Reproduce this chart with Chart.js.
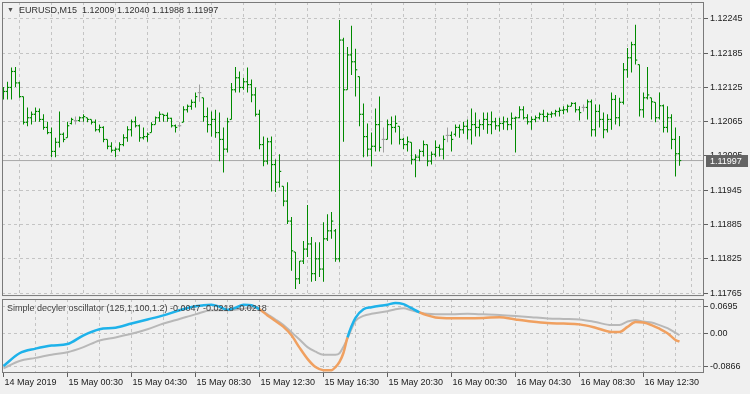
<!DOCTYPE html>
<html><head><meta charset="utf-8">
<script src="https://cdn.jsdelivr.net/npm/chart.js@4"></script>
<style>
html,body{margin:0;padding:0;background:#f0f0f0;}
#wrap{position:relative;width:750px;height:394px;overflow:hidden;font-family:"Liberation Sans",Arial,sans-serif;background:#f0f0f0;}
#c1{position:absolute;left:0;top:0;width:750px;height:298px;}
#c2{position:absolute;left:0;top:298px;width:750px;height:96px;}
.lbl{position:absolute;font-size:9px;color:#303030;white-space:pre;line-height:12px;}
</style></head><body>
<div id="wrap">
<canvas id="c1" width="750" height="298"></canvas>
<canvas id="c2" width="750" height="96"></canvas>
<div class="lbl" style="left:7px;top:4px;font-size:7px;color:#505050">▼</div>
<div class="lbl" id="title" style="left:19px;top:4px"></div>
<div class="lbl" id="subtitle" style="left:7px;top:302px;color:#404040"></div>
</div>
<script>
const symbolTitle = 'EURUSD,M15';
const indicatorTitle = 'Simple decyler oscillator (125,1,100,1.2)';
const tickLabels = ['14 May 2019','15 May 00:30','15 May 04:30','15 May 08:30','15 May 12:30','15 May 16:30','15 May 20:30','16 May 00:30','16 May 04:30','16 May 08:30','16 May 12:30'];
const priceTicks = [1.11765,1.11825,1.11885,1.11945,1.12005,1.12065,1.12125,1.12185,1.12245];
const oscTicks = [-0.0866, 0, 0.0695];
const oscTickLabels = ['-0.0866','0.00','0.0695'];

const open = [
1.12111,1.12118,1.12125,1.12153,1.12133,1.12109,1.12064,1.12072,1.12078,1.12083,
1.12069,1.12055,1.12046,1.12013,1.12029,1.12043,1.12037,1.12062,1.12067,1.12067,
1.12072,1.12072,1.12069,1.12064,1.12051,1.12055,1.12034,1.12022,1.12015,1.12017,
1.12025,1.12037,1.12051,1.12065,1.12058,1.12037,1.12039,1.12046,1.12060,1.12072,
1.12078,1.12076,1.12071,1.12058,1.12058,1.12064,1.12086,1.12092,1.12099,1.12116,
1.12107,1.12074,1.12060,1.12069,1.12046,1.12034,1.12017,1.12069,1.12121,1.12142,
1.12125,1.12135,1.12130,1.12112,1.12078,1.12025,1.11996,1.12030,1.11990,1.11959,
1.11952,1.11926,1.11891,1.11837,1.11790,1.11821,1.11842,1.11851,1.11799,1.11825,
1.11807,1.11860,1.11874,1.11874,1.11825,1.12208,1.12121,1.12182,1.12170,1.12144,
1.12078,1.12039,1.12017,1.12022,1.12060,1.12034,1.12034,1.12060,1.12055,1.12057,
1.12034,1.12025,1.12029,1.11999,1.12003,1.12013,1.12025,1.11996,1.12008,1.12020,
1.12017,1.12041,1.12041,1.12043,1.12055,1.12051,1.12057,1.12051,1.12060,1.12055,
1.12060,1.12069,1.12060,1.12065,1.12058,1.12062,1.12065,1.12060,1.12071,1.12072,
1.12086,1.12072,1.12065,1.12069,1.12072,1.12078,1.12074,1.12078,1.12079,1.12083,
1.12085,1.12086,1.12092,1.12097,1.12086,1.12090,1.12090,1.12100,1.12051,1.12083,
1.12069,1.12051,1.12069,1.12104,1.12072,1.12099,1.12156,1.12177,1.12200,1.12165,
1.12086,1.12107,1.12107,1.12099,1.12072,1.12093,1.12055,1.12072,1.12034,1.12009];
const high = [
1.12126,1.12135,1.12160,1.12161,1.12135,1.12109,1.12090,1.12083,1.12090,1.12088,
1.12078,1.12065,1.12055,1.12037,1.12083,1.12046,1.12065,1.12072,1.12074,1.12074,
1.12078,1.12072,1.12069,1.12069,1.12060,1.12057,1.12034,1.12029,1.12020,1.12029,
1.12043,1.12057,1.12069,1.12074,1.12060,1.12055,1.12046,1.12064,1.12074,1.12083,
1.12078,1.12081,1.12072,1.12060,1.12064,1.12092,1.12095,1.12104,1.12116,1.12130,
1.12107,1.12090,1.12083,1.12086,1.12081,1.12055,1.12072,1.12133,1.12161,1.12153,
1.12142,1.12160,1.12139,1.12125,1.12086,1.12039,1.12037,1.12039,1.11999,1.12008,
1.11952,1.11959,1.11898,1.11837,1.11821,1.11856,1.11919,1.11863,1.11854,1.11854,
1.11889,1.11903,1.11907,1.11877,1.12243,1.12212,1.12196,1.12233,1.12193,1.12144,
1.12097,1.12062,1.12046,1.12088,1.12109,1.12055,1.12069,1.12074,1.12076,1.12057,
1.12037,1.12039,1.12029,1.12008,1.12017,1.12032,1.12025,1.12013,1.12032,1.12025,
1.12041,1.12055,1.12048,1.12060,1.12060,1.12065,1.12069,1.12088,1.12081,1.12069,
1.12081,1.12081,1.12083,1.12072,1.12072,1.12074,1.12072,1.12081,1.12074,1.12092,
1.12092,1.12078,1.12074,1.12076,1.12081,1.12086,1.12081,1.12083,1.12086,1.12090,
1.12092,1.12095,1.12099,1.12099,1.12092,1.12095,1.12104,1.12104,1.12095,1.12095,
1.12081,1.12078,1.12116,1.12112,1.12107,1.12168,1.12194,1.12205,1.12235,1.12165,
1.12116,1.12161,1.12107,1.12099,1.12116,1.12095,1.12092,1.12078,1.12055,1.12040];
const low = [
1.12104,1.12104,1.12104,1.12126,1.12107,1.12060,1.12057,1.12060,1.12065,1.12065,
1.12051,1.12043,1.12003,1.12003,1.12020,1.12029,1.12037,1.12060,1.12060,1.12065,
1.12065,1.12064,1.12060,1.12048,1.12046,1.12029,1.12017,1.12011,1.12003,1.12013,
1.12022,1.12030,1.12039,1.12055,1.12030,1.12034,1.12030,1.12046,1.12060,1.12065,
1.12065,1.12065,1.12055,1.12046,1.12055,1.12064,1.12081,1.12086,1.12090,1.12100,
1.12065,1.12046,1.12039,1.12037,1.11996,1.11976,1.12011,1.12069,1.12116,1.12116,
1.12121,1.12116,1.12099,1.12074,1.12017,1.11987,1.11990,1.11943,1.11942,1.11950,
1.11917,1.11886,1.11804,1.11772,1.11781,1.11816,1.11828,1.11785,1.11786,1.11793,
1.11785,1.11856,1.11860,1.11820,1.11820,1.12030,1.12121,1.12147,1.12109,1.12057,
1.12003,1.12004,1.11987,1.12013,1.12013,1.12011,1.12034,1.12025,1.12046,1.12025,
1.12017,1.12013,1.11990,1.11968,1.11996,1.12004,1.11987,1.11990,1.12003,1.12004,
1.11999,1.12029,1.12013,1.12039,1.12037,1.12044,1.12034,1.12025,1.12039,1.12039,
1.12051,1.12044,1.12043,1.12051,1.12048,1.12051,1.12050,1.12051,1.12011,1.12071,
1.12069,1.12060,1.12051,1.12064,1.12069,1.12065,1.12065,1.12072,1.12074,1.12074,
1.12078,1.12081,1.12092,1.12081,1.12067,1.12083,1.12069,1.12039,1.12039,1.12055,
1.12036,1.12046,1.12051,1.12060,1.12057,1.12095,1.12142,1.12151,1.12165,1.12074,
1.12072,1.12104,1.12069,1.12064,1.12069,1.12046,1.12046,1.12017,1.11969,1.11988];
const close = [
1.12118,1.12125,1.12153,1.12133,1.12109,1.12064,1.12072,1.12078,1.12083,1.12069,
1.12055,1.12046,1.12013,1.12029,1.12043,1.12034,1.12058,1.12069,1.12067,1.12072,
1.12074,1.12069,1.12064,1.12051,1.12055,1.12034,1.12022,1.12015,1.12017,1.12025,
1.12037,1.12051,1.12065,1.12058,1.12037,1.12039,1.12043,1.12060,1.12072,1.12078,
1.12076,1.12071,1.12058,1.12055,1.12058,1.12086,1.12092,1.12099,1.12109,1.12116,
1.12074,1.12060,1.12069,1.12046,1.12034,1.12017,1.12065,1.12121,1.12142,1.12125,
1.12135,1.12130,1.12112,1.12078,1.12025,1.11996,1.12030,1.11990,1.11959,1.11978,
1.11926,1.11891,1.11839,1.11790,1.11821,1.11842,1.11851,1.11799,1.11825,1.11807,
1.11860,1.11874,1.11891,1.11825,1.12208,1.12121,1.12182,1.12170,1.12156,1.12078,
1.12039,1.12017,1.12022,1.12060,1.12020,1.12034,1.12060,1.12055,1.12062,1.12034,
1.12025,1.12030,1.11999,1.12003,1.12013,1.12025,1.11996,1.12008,1.12020,1.12017,
1.12034,1.12041,1.12034,1.12055,1.12051,1.12057,1.12051,1.12060,1.12055,1.12060,
1.12069,1.12060,1.12065,1.12058,1.12062,1.12065,1.12060,1.12071,1.12072,1.12086,
1.12072,1.12065,1.12069,1.12072,1.12078,1.12074,1.12078,1.12079,1.12083,1.12085,
1.12086,1.12092,1.12097,1.12086,1.12081,1.12090,1.12100,1.12051,1.12083,1.12069,
1.12051,1.12069,1.12104,1.12072,1.12099,1.12156,1.12177,1.12200,1.12173,1.12086,
1.12107,1.12112,1.12100,1.12072,1.12093,1.12055,1.12072,1.12034,1.12009,1.11997];

const oscBars = [0,4,8,12,16,20,24,28,32,36,40,44,48,52,54,56,58,60,62,64,66,68,70,72,74,76,78,80,82,83,84,85,86,88,90,92,96,98,100,102,104,106,108,112,116,120,124,128,132,136,140,144,148,152,154,156,158,160,162,164,166,168,169];
const decycler = [-0.0855,-0.0521,-0.0401,-0.0321,-0.0281,-0.0053,0.0107,0.0147,0.0254,0.0361,0.0468,0.0601,0.0708,0.0748,0.0695,0.0615,0.0668,0.0748,0.0735,0.0628,0.0468,0.0321,0.0168,-0.0053,-0.0374,-0.0668,-0.0882,-0.0962,-0.0962,-0.0882,-0.0748,-0.0508,-0.0107,0.0401,0.0628,0.0682,0.0748,0.0794,0.0762,0.0655,0.0548,0.0468,0.0414,0.0393,0.0393,0.0401,0.0420,0.0361,0.0307,0.0267,0.0254,0.0233,0.0147,0.0035,0.0035,0.0168,0.0294,0.0281,0.0214,0.0120,0.0000,-0.0174,-0.0218];
const signal = [-0.0917,-0.0722,-0.0642,-0.0561,-0.0495,-0.0361,-0.0187,-0.0107,-0.0013,0.0107,0.0254,0.0374,0.0495,0.0601,0.0601,0.0601,0.0615,0.0642,0.0668,0.0628,0.0495,0.0361,0.0214,0.0027,-0.0160,-0.0361,-0.0481,-0.0561,-0.0561,-0.0561,-0.0521,-0.0348,-0.0134,0.0321,0.0454,0.0508,0.0575,0.0628,0.0655,0.0601,0.0548,0.0508,0.0495,0.0495,0.0508,0.0495,0.0481,0.0454,0.0420,0.0388,0.0374,0.0361,0.0294,0.0214,0.0214,0.0307,0.0348,0.0307,0.0281,0.0214,0.0134,0.0013,-0.0047];

const N = close.length;
const last = N - 1;
document.getElementById('title').textContent = symbolTitle + '  ' + [open[last],high[last],low[last],close[last]].map(v=>v.toFixed(5)).join(' ');
document.getElementById('subtitle').textContent = indicatorTitle + ' ' + signal[signal.length-1].toFixed(4) + ' ' + decycler[decycler.length-1].toFixed(4) + ' ' + decycler[decycler.length-1].toFixed(4);

const FONT = {family:'"Liberation Sans", Arial, sans-serif', size:9};
const TXT = '#202020';
const GRID = '#c4c4c4';
const FRAME = '#7a7a7a';
const TICK = '#606060';
const GREEN = '#008a00', DOJI = '#a0a0a0';
const BLUE = '#1eb2ea', ORANGE = '#f0a060', GRAY = '#b8b8b8';
const xMin = -0.375, xMax = xMin + 702/4;
const gridTicks = []; for (let v = 8; v <= 168; v += 8) gridTicks.push(v);
const axisTicks = []; for (let v = 0; v <= 168; v += 8) axisTicks.push(v);
const barCol = i => open[i] === close[i] ? DOJI : GREEN;
const noPad = s => { s.paddingTop = 0; s.paddingBottom = 0; s.paddingLeft = 0; s.paddingRight = 0; };

const framePlugin = {
  id: 'frame',
  afterDraw(chart) {
    const a = chart.chartArea, ctx = chart.ctx;
    ctx.save(); ctx.strokeStyle = FRAME; ctx.lineWidth = 1;
    ctx.strokeRect(a.left + 0.5, a.top + 0.5, a.right - a.left - 1, a.bottom - a.top - 1);
    ctx.restore();
  }
};
const priceLabelPlugin = {
  id: 'priceLabel',
  afterDraw(chart) {
    const ctx = chart.ctx, a = chart.chartArea;
    const y = Math.round(chart.scales.y.getPixelForValue(close[last]));
    ctx.save();
    ctx.fillStyle = '#646464';
    ctx.fillRect(a.right + 2, y - 6, 42, 12);
    ctx.fillStyle = '#ffffff';
    ctx.font = '9px "Liberation Sans", Arial, sans-serif';
    ctx.textBaseline = 'middle'; ctx.textAlign = 'left';
    ctx.fillText(close[last].toFixed(5), a.right + 6, y + 0.5);
    ctx.restore();
  }
};

new Chart(document.getElementById('c1'), {
  type: 'bar',
  data: { datasets: [
    { type:'line', data:[{x:xMin,y:close[last]},{x:xMax,y:close[last]}], borderColor:'#a8a8a8', borderWidth:1, pointRadius:0, order:10 },
    { type:'bar', data: close.map((c,i)=>({x:i, y:[low[i], high[i]]})), backgroundColor: ctx => barCol(ctx.dataIndex),
      barThickness:1, inflateAmount:0, borderWidth:0, grouped:false, order:2 },
    { type:'scatter', data: open.map((o,i)=>({x:i-0.25, y:o})), pointStyle:'line', pointRadius:0.75, pointHoverRadius:0,
      pointBorderWidth:1.2, pointBorderColor: ctx => barCol(ctx.dataIndex), order:1 },
    { type:'scatter', data: close.map((c,i)=>({x:i+0.25, y:c})), pointStyle:'line', pointRadius:0.75, pointHoverRadius:0,
      pointBorderWidth:1.2, pointBorderColor: ctx => barCol(ctx.dataIndex), order:1 }
  ]},
  options: {
    responsive:false, animation:false, events:[],
    layout:{padding:{left:2, top:2, right:0, bottom:1}},
    plugins:{legend:{display:false}, tooltip:{enabled:false}},
    scales:{
      x:{ type:'linear', min:xMin, max:xMax, offset:false,
        afterBuildTicks: s => { s.ticks = gridTicks.map(v=>({value:v})); },
        afterFit: s => { s.height = 0; noPad(s); },
        ticks:{display:false}, grid:{color:GRID, drawTicks:false, lineWidth:1}, border:{display:false, dash:[3,3]} },
      y:{ type:'linear', position:'right', min:1.1175977, max:1.1227465,
        afterBuildTicks: s => { s.ticks = priceTicks.map(v=>({value:v})); },
        afterFit: s => { s.width = 46; noPad(s); },
        ticks:{ callback: v => Number(v).toFixed(5), font:FONT, color:TXT, padding:2 },
        grid:{ color:GRID, tickColor:TICK, tickLength:4, lineWidth:1 }, border:{display:false, dash:[3,3]} }
    }
  },
  plugins:[framePlugin, priceLabelPlugin]
});

new Chart(document.getElementById('c2'), {
  type: 'line',
  data: { datasets: [
    { data: oscBars.map((b,k)=>({x:b, y:decycler[k]})), borderWidth:2.5, pointRadius:0, cubicInterpolationMode:'monotone',
      borderColor: BLUE,
      segment:{ borderColor: ctx => (decycler[ctx.p0DataIndex] + decycler[ctx.p1DataIndex]) >= (signal[ctx.p0DataIndex] + signal[ctx.p1DataIndex]) ? BLUE : ORANGE },
      order:1 },
    { data: oscBars.map((b,k)=>({x:b, y:signal[k]})), borderWidth:2, pointRadius:0, cubicInterpolationMode:'monotone', borderColor: GRAY, order:2 }
  ]},
  options: {
    responsive:false, animation:false, events:[],
    layout:{padding:{left:2, top:1, right:0, bottom:0}},
    plugins:{legend:{display:false}, tooltip:{enabled:false}},
    scales:{
      x:{ type:'linear', min:xMin, max:xMax, offset:false,
        afterBuildTicks: s => { s.ticks = axisTicks.map(v=>({value:v})); },
        afterFit: s => { s.height = 21; noPad(s); },
        ticks:{ autoSkip:false, maxRotation:0, minRotation:0, align:'start', labelOffset:1, padding:0, font:FONT, color:TXT,
          callback: v => (v % 16 === 0 ? (tickLabels[v/16] || '') : '') },
        grid:{ color: ctx => (ctx.tick && ctx.tick.value === 0 ? 'rgba(0,0,0,0)' : GRID),
          tickColor: ctx => (ctx.tick && ctx.tick.value % 16 === 0 ? TICK : 'rgba(0,0,0,0)'), tickLength:4, lineWidth:1 },
        border:{display:false, dash:[3,3]} },
      y:{ type:'linear', position:'right', min:-0.1037, max:0.0896,
        afterBuildTicks: s => { s.ticks = oscTicks.map(v=>({value:v})); },
        afterFit: s => { s.width = 46; noPad(s); },
        ticks:{ callback: (v, i) => oscTickLabels[i], font:FONT, color:TXT, padding:2 },
        grid:{ color:GRID, tickColor:TICK, tickLength:4, lineWidth:1 }, border:{display:false, dash:[3,3]} }
    }
  },
  plugins:[framePlugin]
});
</script>
</body></html>
